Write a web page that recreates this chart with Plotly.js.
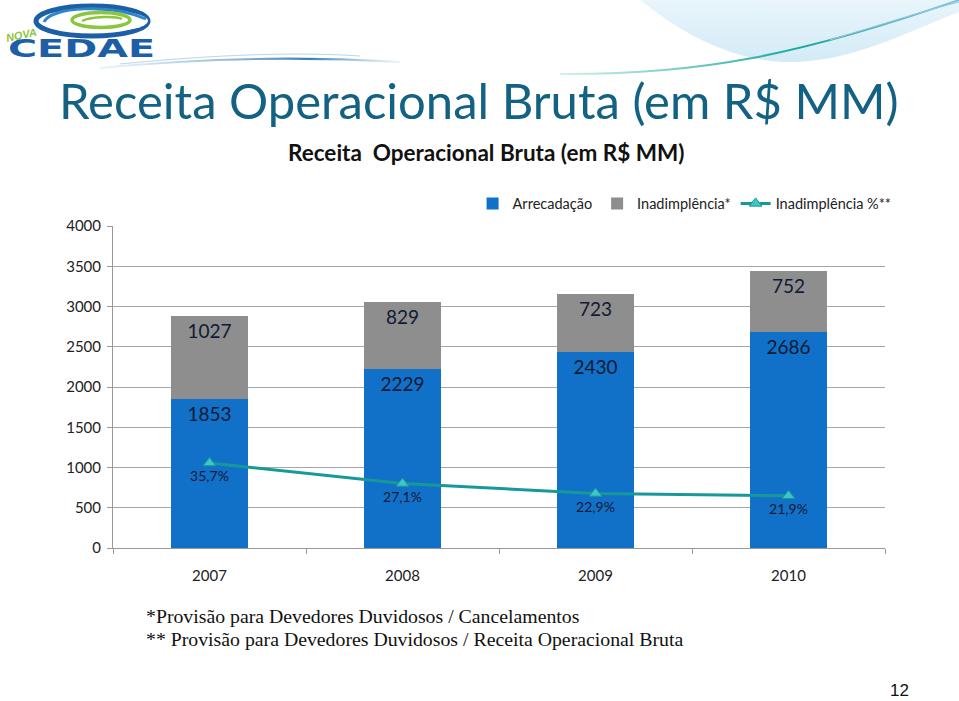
<!DOCTYPE html>
<html>
<head>
<meta charset="utf-8">
<script src="https://cdn.plot.ly/plotly-3.0.1.min.js"></script>
<style>
  html, body { margin:0; padding:0; background:#fff; }
  #wrap { position:relative; width:959px; height:701px; overflow:hidden; }
  #bg { position:absolute; left:0; top:0; }
  #chart { position:absolute; left:0; top:0; width:959px; height:701px; }
</style>
</head>
<body>
<div id="wrap">
<svg id="bg" width="959" height="701" xmlns="http://www.w3.org/2000/svg">
  <defs>
    <linearGradient id="sky" x1="0" y1="0" x2="0" y2="1">
      <stop offset="0" stop-color="#e9f5fb"/>
      <stop offset="1" stop-color="#d3ebf6"/>
    </linearGradient>
    <linearGradient id="ln" x1="0" y1="0" x2="1" y2="0">
      <stop offset="0" stop-color="#2bb0a0" stop-opacity="0.2"/>
      <stop offset="0.6" stop-color="#1aa89a"/>
      <stop offset="1" stop-color="#7fc6e0"/>
    </linearGradient>
    <linearGradient id="ln2" x1="0" y1="0" x2="1" y2="0">
      <stop offset="0" stop-color="#b8d8ea" stop-opacity="0.3"/>
      <stop offset="0.7" stop-color="#3a7fb8"/>
      <stop offset="1" stop-color="#b8d8ea" stop-opacity="0.3"/>
    </linearGradient>
  </defs>
  <path d="M640,0 C690,40 740,62 790,62 C850,62 900,35 959,12 L959,0 Z" fill="url(#sky)"/>
  <path d="M560,74 C700,75 800,55 959,0" stroke="url(#ln)" stroke-width="2" fill="none"/>
  <path d="M830,40 C880,25 920,12 959,2" stroke="#9cc7dc" stroke-width="1" fill="none"/>
  <path d="M100,68 C200,58 300,56 400,62" stroke="url(#ln2)" stroke-width="2" fill="none"/>
  <path d="M120,64 C220,54 300,52 360,56" stroke="#b9d7e6" stroke-width="1" fill="none"/>
  <!-- logo -->
  <ellipse cx="92" cy="21" rx="56" ry="15" fill="none" stroke="#1d5fa6" stroke-width="5"/>
  <ellipse cx="101" cy="21" rx="47" ry="11" fill="#fff" stroke="none"/>
  <path d="M44,22 C50,7 110,3 146,19" stroke="#2f86c8" stroke-width="3" fill="none"/>
  <ellipse cx="101" cy="20" rx="29" ry="7.5" fill="none" stroke="#8cc63f" stroke-width="3.5"/>
  <path d="M82,21 C92,16 116,16 122,19" stroke="#8cc63f" stroke-width="2.5" fill="none"/>
  <text x="7" y="42" font-family="Liberation Sans" font-style="italic" font-weight="bold" font-size="11" fill="#8cc63f" transform="rotate(-12 7 42)">NOVA</text>
  <text x="8" y="57" font-family="DejaVu Sans" font-weight="bold" font-size="24" fill="#1d5fa6" textLength="147" lengthAdjust="spacingAndGlyphs">CEDAE</text>
</svg>
<div id="chart"></div>
</div>
<script>
const years = ['2007', '2008', '2009', '2010'];
const arrecadacao = [1853, 2229, 2430, 2686];
const inadimplencia = [1027, 829, 723, 752];
const inadPct = [35.7, 27.1, 22.9, 21.9];
const pctLabels = ['35,7%', '27,1%', '22,9%', '21,9%'];
const yTicks = [0, 500, 1000, 1500, 2000, 2500, 3000, 3500, 4000];

const FONT = 'Lato, "Open Sans", sans-serif';
const txtCol = '#111a33';

const traces = [
  {
    type: 'bar', name: 'Arrecadação', x: years, y: arrecadacao,
    marker: { color: '#1170c8' },
    text: arrecadacao.map(String), textposition: 'inside', insidetextanchor: 'end',
    textfont: { family: FONT, size: 19, color: txtCol }, constraintext: 'none',
    hoverinfo: 'none'
  },
  {
    type: 'bar', name: 'Inadimplência*', x: years, y: inadimplencia,
    marker: { color: '#8e8e8e' },
    text: inadimplencia.map(String), textposition: 'inside', insidetextanchor: 'end',
    textfont: { family: FONT, size: 19, color: txtCol }, constraintext: 'none',
    hoverinfo: 'none'
  },
  {
    type: 'scatter', mode: 'lines+markers+text', name: 'Inadimplência %**',
    x: years, y: inadPct, yaxis: 'y2',
    line: { color: '#17999a', width: 3 },
    marker: { symbol: 'triangle-up', size: 11, color: '#3cc6c6', line: { color: '#17999a', width: 1 } },
    text: pctLabels, textposition: 'bottom center',
    textfont: { family: FONT, size: 14, color: txtCol },
    hoverinfo: 'none'
  }
];

const layout = {
  width: 959, height: 701,
  margin: { l: 113, r: 74, t: 226, b: 153 },
  paper_bgcolor: 'rgba(0,0,0,0)', plot_bgcolor: 'rgba(0,0,0,0)',
  barmode: 'stack', bargap: 0.6,
  font: { family: FONT, color: '#222' },
  showlegend: true,
  legend: {
    orientation: 'h', x: 1.015, xanchor: 'right', y: 1.07, yanchor: 'middle',
    font: { family: FONT, size: 14.5, color: '#222' }, traceorder: 'normal',
    itemwidth: 30, bgcolor: 'rgba(0,0,0,0)'
  },
  xaxis: {
    type: 'category', showgrid: false, showline: true, linecolor: '#999', linewidth: 1,
    ticks: 'outside', tickson: 'boundaries', ticklen: 5, tickcolor: '#999',
    ticklabelstandoff: 14,
    tickfont: { family: FONT, size: 15, color: '#222' }, fixedrange: true
  },
  yaxis: {
    range: [0, 4000], tickvals: yTicks, ticktext: yTicks.map(String),
    showgrid: true, gridcolor: '#a6a6a6', gridwidth: 1,
    showline: true, linecolor: '#999', linewidth: 1,
    ticks: 'outside', ticklen: 5, tickcolor: '#999', ticklabelstandoff: 3,
    tickfont: { family: FONT, size: 15, color: '#222' }, zeroline: false, fixedrange: true
  },
  yaxis2: {
    overlaying: 'y', side: 'right', range: [0, 135.2], visible: false, fixedrange: true
  },
  annotations: [
    {
      xref: 'paper', yref: 'paper', x: -0.072, y: 1.391, xanchor: 'left', yanchor: 'middle',
      text: 'Receita Operacional Bruta (em R$ MM)', showarrow: false,
      font: { family: FONT, size: 49, color: '#136283' }
    },
    {
      xref: 'paper', yref: 'paper', x: 0.483, y: 1.227, xanchor: 'center', yanchor: 'middle',
      text: '<b>Receita  Operacional Bruta (em R$ MM)</b>', showarrow: false,
      font: { family: FONT, size: 22.5, color: '#111' }
    },
    {
      xref: 'paper', yref: 'paper', x: 0.04, y: -0.21, xanchor: 'left', yanchor: 'middle',
      text: '*Provisão para Devedores Duvidosos / Cancelamentos', showarrow: false,
      font: { family: '"Liberation Serif", serif', size: 19.8, color: '#111' }
    },
    {
      xref: 'paper', yref: 'paper', x: 0.04, y: -0.282, xanchor: 'left', yanchor: 'middle',
      text: '** Provisão para Devedores Duvidosos / Receita Operacional Bruta', showarrow: false,
      font: { family: '"Liberation Serif", serif', size: 19.8, color: '#111' }
    },
    {
      xref: 'paper', yref: 'paper', x: 1.019, y: -0.443, xanchor: 'center', yanchor: 'middle',
      text: '12', showarrow: false,
      font: { family: '"Liberation Sans", Arial, sans-serif', size: 17, color: '#111' }
    }
  ]
};

Plotly.newPlot('chart', traces, layout, { displayModeBar: false, staticPlot: true });
</script>
</body>
</html>
